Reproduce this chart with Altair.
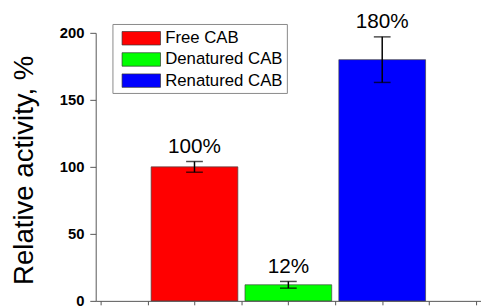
import altair as alt
import pandas as pd

categories = ["Free CAB", "Denatured CAB", "Renatured CAB"]
positions = [2, 4, 6]
values = [100, 12, 180]
errors = [4, 2.5, 17]
labels = ["100%", "12%", "180%"]
colors = ["#ff0000", "#00ff00", "#0000ff"]

y_ticks = [0, 25, 50, 75, 100, 125, 150, 175, 200]
x_ticks = [0, 1, 2, 3, 4, 5, 6, 7, 8]

df = pd.DataFrame({
    "cat": categories,
    "pos": positions,
    "val": values,
    "err": errors,
    "lab": labels,
})

FONT = "Liberation Sans"

base = alt.Chart(df).transform_calculate(
    hi="datum.val + datum.err", lo="datum.val - datum.err"
)

xenc = alt.X("pos:Q", scale=alt.Scale(domain=[0, 8], nice=False),
             axis=alt.Axis(values=x_ticks, labels=False, title=None, grid=False,
                           tickSize=4, domainColor="#555", tickColor="#555"))
yscale = alt.Scale(domain=[0, 200], nice=False)

bars = base.mark_bar(size=88, stroke="#444", strokeWidth=0.7).encode(
    x=xenc,
    y=alt.Y("val:Q", scale=yscale,
            axis=alt.Axis(values=y_ticks, grid=False,
                          labelExpr="datum.value % 50 === 0 ? datum.label : ''",
                          labelFont=FONT, labelFontSize=15, labelFontWeight="bold",
                          labelColor="black", labelPadding=6,
                          tickSize={"condition": {"test": "datum.value % 50 === 0", "value": 6}, "value": 3},
                          domainColor="#555", tickColor="#555",
                          title="Relative activity, %", titleFont=FONT,
                          titleFontSize=28, titleFontWeight="normal", titleColor="black",
                          titleX=-64, titleY=139, titleAngle=-90,
                          titleAlign="center", titleBaseline="alphabetic")),
    color=alt.Color("cat:N", scale=alt.Scale(domain=categories, range=colors),
                    legend=alt.Legend(title=None, orient="none", legendX=17, legendY=-9,
                                      symbolType="M-2,-0.7H2V0.7H-2Z", symbolSize=380,
                                      symbolOffset=14.75,
                                      symbolStrokeColor="#333", symbolStrokeWidth=0.7,
                                      symbolOpacity=1,
                                      labelFont=FONT, labelFontSize=17, labelColor="black",
                                      labelOffset=13.75, rowPadding=2.5, padding=4,
                                      strokeColor="#888", fillColor="white")),
)

rules = base.mark_rule(color="black", strokeWidth=1.5).encode(
    x="pos:Q", y=alt.Y("lo:Q", scale=yscale), y2="hi:Q"
)
cap_hi = base.mark_tick(orient="horizontal", size=17, thickness=1.5, color="black").encode(
    x="pos:Q", y=alt.Y("hi:Q", scale=yscale)
)
cap_lo = base.mark_tick(orient="horizontal", size=17, thickness=1.5, color="black").encode(
    x="pos:Q", y=alt.Y("lo:Q", scale=yscale)
)
text = base.mark_text(dy=-5, baseline="bottom", font=FONT, fontSize=21, color="black").encode(
    x="pos:Q", y=alt.Y("hi:Q", scale=yscale), text="lab:N"
)

chart = alt.layer(bars, rules, cap_hi, cap_lo, text).properties(
    width=391, height=272,
    autosize=alt.AutoSizeParams(type="none"),
    padding={"left": 89, "top": 23, "right": 0, "bottom": 4},
).configure_view(stroke=None)

chart.save("out.html", embed_options={"renderer": "svg", "actions": False})
